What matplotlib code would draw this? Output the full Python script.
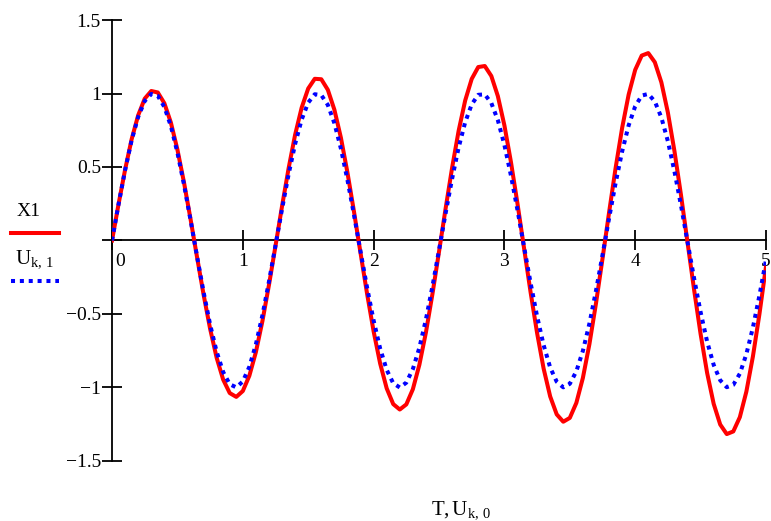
import numpy as np
import matplotlib
matplotlib.use("Agg")
import matplotlib.pyplot as plt
from matplotlib.lines import Line2D
from matplotlib.transforms import ScaledTranslation

plt.rcParams['font.family'] = ['Liberation Serif', 'DejaVu Serif']
plt.rcParams['mathtext.fontset'] = 'custom'
plt.rcParams['mathtext.rm'] = 'Liberation Serif'
plt.rcParams['mathtext.it'] = 'Liberation Serif:italic'

# sample times T (step 0.05)
T = np.linspace(0, 5, 101)

# U_k,1
U1 = [0.000, 0.247, 0.479, 0.682, 0.841, 0.949, 0.997, 0.984, 0.909, 0.778,
      0.598, 0.382, 0.141, -0.108, -0.351, -0.572, -0.757, -0.895, -0.978, -0.999,
      -0.959, -0.859, -0.706, -0.508, -0.279, -0.033, 0.215, 0.450, 0.657, 0.823,
      0.938, 0.995, 0.989, 0.922, 0.798, 0.625, 0.412, 0.174, -0.075, -0.320,
      -0.544, -0.735, -0.880, -0.971, -1.000, -0.967, -0.875, -0.729, -0.537, -0.311,
      -0.066, 0.183, 0.420, 0.632, 0.804, 0.926, 0.991, 0.994, 0.935, 0.818,
      0.650, 0.442, 0.207, -0.042, -0.288, -0.516, -0.712, -0.864, -0.961, -0.999,
      -0.975, -0.890, -0.751, -0.565, -0.343, -0.099, 0.150, 0.390, 0.605, 0.783,
      0.913, 0.986, 0.997, 0.946, 0.837, 0.675, 0.471, 0.239, -0.009, -0.256,
      -0.487, -0.688, -0.846, -0.951, -0.998, -0.982, -0.906, -0.773, -0.592, -0.374,
      -0.132]

# X1
X1 = [0.000, 0.248, 0.482, 0.689, 0.852, 0.965, 1.017, 1.007, 0.934, 0.802,
      0.618, 0.396, 0.147, -0.113, -0.368, -0.601, -0.798, -0.947, -1.038, -1.064,
      -1.024, -0.920, -0.759, -0.548, -0.302, -0.036, 0.234, 0.491, 0.720, 0.904,
      1.034, 1.100, 1.097, 1.025, 0.890, 0.699, 0.462, 0.196, -0.085, -0.362,
      -0.618, -0.837, -1.006, -1.113, -1.150, -1.115, -1.012, -0.845, -0.625, -0.363,
      -0.077, 0.215, 0.494, 0.746, 0.952, 1.099, 1.180, 1.187, 1.119, 0.982,
      0.783, 0.534, 0.251, -0.051, -0.351, -0.630, -0.872, -1.061, -1.183, -1.233,
      -1.207, -1.105, -0.935, -0.705, -0.429, -0.124, 0.189, 0.492, 0.765, 0.993,
      1.161, 1.258, 1.275, 1.213, 1.076, 0.870, 0.609, 0.310, -0.012, -0.333,
      -0.636, -0.901, -1.111, -1.252, -1.317, -1.299, -1.202, -1.028, -0.789, -0.500,
      -0.177]

xticks = [0, 1, 2, 3, 4, 5]
xtick_labels = ["0", "1", "2", "3", "4", "5"]
yticks = [-1.5, -1.0, -0.5, 0.0, 0.5, 1.0, 1.5]
ytick_labels = ["\u22121.5", "\u22121", "\u22120.5", "", "0.5", "1", "1.5"]

fig = plt.figure(figsize=(7.71, 5.21), dpi=100)
ax = fig.add_axes([0.1453, 0.1152, 0.8482, 0.8464])

red = "#ff0000"
blue = "#0000ff"
dots = (0, (1.0, 1.2))
ax.plot(T, X1, color=red, lw=2.9, solid_joinstyle="round")
ax.plot(T, U1, color=blue, lw=2.9, linestyle=dots)

ax.set_xlim(0, 5)
ax.set_ylim(-1.5, 1.5)
for s in ("top", "right"):
    ax.spines[s].set_visible(False)
ax.spines["left"].set_position(("data", 0))
ax.spines["bottom"].set_position(("data", 0))
for s in ("left", "bottom"):
    ax.spines[s].set_linewidth(1.3)
    ax.spines[s].set_zorder(1)

ax.set_xticks(xticks)
ax.set_xticklabels(xtick_labels)
ax.set_yticks(yticks)
ax.set_yticklabels(ytick_labels)
ax.tick_params(axis="both", direction="inout", length=14, width=1.3,
               labelsize=14, pad=1)
ax.tick_params(axis="x", pad=2)

# nudge the "0" label off the vertical axis
lab0 = ax.get_xticklabels()[0]
lab0.set_transform(lab0.get_transform() + ScaledTranslation(8 / 100, 0, fig.dpi_scale_trans))

# legend on the left
fig.text(17 / 771, 1 - 211 / 521, "X1", fontsize=14, ha="left", va="center")
fig.add_artist(Line2D([11 / 771, 59 / 771], [1 - 233 / 521, 1 - 233 / 521],
                      transform=fig.transFigure, color=red, lw=2.9))
fig.text(15 / 771, 1 - 259 / 521, r"$\mathrm{U}_{\mathrm{k,\,1}}$", fontsize=15,
         ha="left", va="center")
fig.add_artist(Line2D([11 / 771, 59 / 771], [1 - 281 / 521, 1 - 281 / 521],
                      transform=fig.transFigure, color=blue, lw=2.9,
                      linestyle=dots))

# x axis label
fig.text(461 / 771, 1 - 510 / 521, r"$\mathrm{T, U}_{\mathrm{k,\,0}}$", fontsize=15,
         ha="center", va="center")

fig.savefig("out.png", dpi=100)
